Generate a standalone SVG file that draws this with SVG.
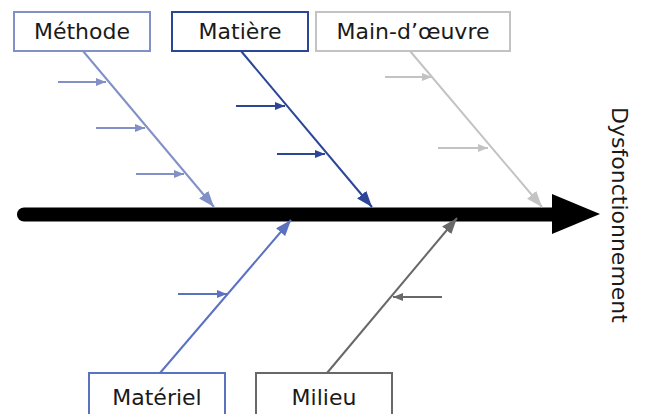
<svg xmlns="http://www.w3.org/2000/svg" width="645" height="414" viewBox="0 0 645 414">
  <style>
    .box { fill: #ffffff; stroke-width: 2; }
    .lbl { font-family: "DejaVu Sans", "Liberation Sans", sans-serif; font-size: 22px; fill: #1a1a1a; text-anchor: middle; }
    .bone { fill: none; stroke-width: 2; }
    .sub { fill: none; stroke-width: 1.8; }
    .c1 { stroke: #8190c6; }
    .c2 { stroke: #2b4597; }
    .c3 { stroke: #c3c3c3; }
    .c4 { stroke: #5a72bf; }
    .c5 { stroke: #686868; }
  </style>
  <defs>
    <marker id="h1" markerUnits="userSpaceOnUse" markerWidth="17" markerHeight="12" refX="16" refY="6" orient="auto"><path d="M0,0 L16,6 L0,12 z" fill="#8190c6"/></marker>
    <marker id="h2" markerUnits="userSpaceOnUse" markerWidth="17" markerHeight="12" refX="16" refY="6" orient="auto"><path d="M0,0 L16,6 L0,12 z" fill="#2b4597"/></marker>
    <marker id="h3" markerUnits="userSpaceOnUse" markerWidth="17" markerHeight="12" refX="16" refY="6" orient="auto"><path d="M0,0 L16,6 L0,12 z" fill="#c3c3c3"/></marker>
    <marker id="h4" markerUnits="userSpaceOnUse" markerWidth="17" markerHeight="12" refX="16" refY="6" orient="auto"><path d="M0,0 L16,6 L0,12 z" fill="#5a72bf"/></marker>
    <marker id="h5" markerUnits="userSpaceOnUse" markerWidth="17" markerHeight="12" refX="16" refY="6" orient="auto"><path d="M0,0 L16,6 L0,12 z" fill="#686868"/></marker>
    <marker id="s1" markerUnits="userSpaceOnUse" markerWidth="11" markerHeight="8" refX="10" refY="4" orient="auto"><path d="M0,0 L10,4 L0,8 z" fill="#8190c6"/></marker>
    <marker id="s2" markerUnits="userSpaceOnUse" markerWidth="11" markerHeight="8" refX="10" refY="4" orient="auto"><path d="M0,0 L10,4 L0,8 z" fill="#2b4597"/></marker>
    <marker id="s3" markerUnits="userSpaceOnUse" markerWidth="11" markerHeight="8" refX="10" refY="4" orient="auto"><path d="M0,0 L10,4 L0,8 z" fill="#c3c3c3"/></marker>
    <marker id="s4" markerUnits="userSpaceOnUse" markerWidth="11" markerHeight="8" refX="10" refY="4" orient="auto"><path d="M0,0 L10,4 L0,8 z" fill="#5a72bf"/></marker>
    <marker id="s5" markerUnits="userSpaceOnUse" markerWidth="11" markerHeight="8" refX="10" refY="4" orient="auto"><path d="M0,0 L10,4 L0,8 z" fill="#686868"/></marker>
  </defs>

  <!-- spine and bones -->
  <g id="connectors">
    <line x1="24" y1="214.5" x2="556" y2="214.5" stroke="#000" stroke-width="14" stroke-linecap="round"/>
    <polygon points="552,194 600,214 552,234" fill="#000"/>

    <line class="bone c1" x1="83" y1="51" x2="214" y2="207" marker-end="url(#h1)"/>
    <line class="sub c1" x1="58" y1="82" x2="106" y2="82" marker-end="url(#s1)"/>
    <line class="sub c1" x1="96" y1="128" x2="145" y2="128" marker-end="url(#s1)"/>
    <line class="sub c1" x1="136" y1="174" x2="184" y2="174" marker-end="url(#s1)"/>

    <line class="bone c2" x1="241" y1="51" x2="372" y2="207" marker-end="url(#h2)"/>
    <line class="sub c2" x1="236" y1="106" x2="285" y2="106" marker-end="url(#s2)"/>
    <line class="sub c2" x1="277" y1="154" x2="325" y2="154" marker-end="url(#s2)"/>

    <line class="bone c3" x1="410" y1="51" x2="542" y2="207" marker-end="url(#h3)"/>
    <line class="sub c3" x1="385" y1="77" x2="432" y2="77" marker-end="url(#s3)"/>
    <line class="sub c3" x1="438" y1="148" x2="488" y2="148" marker-end="url(#s3)"/>

    <line class="bone c4" x1="160" y1="373" x2="291" y2="220" marker-end="url(#h4)"/>
    <line class="sub c4" x1="178" y1="294" x2="227" y2="294" marker-end="url(#s4)"/>

    <line class="bone c5" x1="327" y1="373" x2="457" y2="218" marker-end="url(#h5)"/>
    <line class="sub c5" x1="442" y1="297" x2="393" y2="297" marker-end="url(#s5)"/>
  </g>

  <g id="methode">
    <rect class="box c1" x="14" y="12" width="136" height="39"/>
    <text class="lbl" x="82" y="39">Méthode</text>
  </g>
  <g id="matiere">
    <rect class="box c2" x="172" y="12" width="136" height="39"/>
    <text class="lbl" x="240" y="39">Matière</text>
  </g>
  <g id="main-doeuvre">
    <rect class="box c3" x="316" y="12" width="194" height="39"/>
    <text class="lbl" x="413" y="39">Main-d’œuvre</text>
  </g>
  <g id="materiel">
    <rect class="box c4" x="89" y="373" width="136" height="50"/>
    <text class="lbl" x="157" y="405">Matériel</text>
  </g>
  <g id="milieu">
    <rect class="box c5" x="256" y="373" width="136" height="50"/>
    <text class="lbl" x="324" y="405">Milieu</text>
  </g>
  <g id="dysfonctionnement">
    <text class="lbl" x="0" y="0" transform="translate(612,215) rotate(90)">Dysfonctionnement</text>
  </g>
</svg>
